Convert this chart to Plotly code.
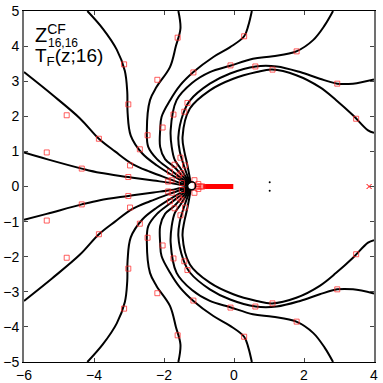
import plotly.graph_objects as go

# level curves through the branch point, upper branch / None / lower branch
c1_x = [-6, -5.35, -4.35, -3.83, -3.02, -2.3, -1.8, -1.517, -1.319, None,
        -1.319, -1.517, -1.8, -2.3, -3.02, -3.83, -4.35, -5.35, -6]
c1_y = [0.97, 0.78, 0.51, 0.39, 0.27, 0.17, 0.10, 0.042, 0.014, None,
        -0.014, -0.042, -0.10, -0.17, -0.27, -0.39, -0.51, -0.78, -0.95]

c2_x = [-6, -5.2, -4.4, -3.86, -3.4, -2.9, -2.4, -1.92, -1.505, -1.315, None,
        -1.315, -1.505, -1.92, -2.4, -2.9, -3.4, -3.86, -4.4, -5.2, -6]
c2_y = [3.26, 2.62, 1.94, 1.36, 1.0, 0.64, 0.42, 0.24, 0.093, 0.031, None,
        -0.031, -0.093, -0.24, -0.42, -0.64, -1.0, -1.36, -1.94, -2.62, -3.26]

c3_x = [-4.19, -3.75, -3.35, -3.12, -3.05, -3.04, -2.95, -2.62, -2.2, -1.48, -1.307, None,
        -1.307, -1.48, -2.2, -2.62, -2.95, -3.04, -3.05, -3.12, -3.35, -3.75, -4.19]
c3_y = [5.0, 4.5, 3.9, 3.3, 2.7, 2.1, 1.45, 0.94, 0.6, 0.15, 0.05, None,
        -0.05, -0.15, -0.6, -0.94, -1.45, -2.1, -2.7, -3.3, -3.9, -4.5, -5.0]

c4_x = [-1.59, -1.53, -1.66, -1.83, -2.21, -2.40, -2.49, -2.45, -2.2, -1.85, -1.45, -1.297, None,
        -1.297, -1.45, -1.85, -2.2, -2.45, -2.49, -2.40, -2.21, -1.83, -1.66, -1.53, -1.59]
c4_y = [5.0, 4.5, 4.0, 3.40, 2.84, 2.46, 1.60, 1.13, 0.78, 0.5, 0.193, 0.064, None,
        -0.064, -0.193, -0.5, -0.78, -1.13, -1.60, -2.46, -2.84, -3.40, -4.0, -4.5, -5.0]

c5_x = [0.51, 0.41, 0.29, -0.11, -0.59, -1.16, -1.54, -1.83, -2.07, -2.11, -2.11, -1.97, -1.7, -1.413, -1.284, None,
        -1.284, -1.413, -1.7, -1.97, -2.11, -2.11, -2.07, -1.83, -1.54, -1.16, -0.59, -0.11, 0.29, 0.41, 0.51]
c5_y = [5.0, 4.59, 4.28, 3.97, 3.69, 3.26, 2.88, 2.45, 1.98, 1.60, 1.13, 0.78, 0.55, 0.230, 0.077, None,
        -0.077, -0.230, -0.55, -0.78, -1.13, -1.60, -1.98, -2.45, -2.88, -3.26, -3.69, -3.97, -4.28, -4.59, -5.0]

c6_x = [2.83, 2.59, 2.26, 1.78, 1.11, 0.54, -0.11, -0.69, -1.2, -1.64, -1.81, -1.78, -1.69, -1.55, -1.370, -1.270, None,
        -1.270, -1.370, -1.55, -1.69, -1.78, -1.81, -1.64, -1.2, -0.69, -0.11, 0.54, 1.11, 1.78, 2.26, 2.59, 2.83]
c6_y = [5.0, 4.59, 4.17, 3.85, 3.71, 3.64, 3.44, 3.26, 2.95, 2.46, 1.60, 1.13, 0.75, 0.55, 0.260, 0.087, None,
        -0.087, -0.260, -0.55, -0.75, -1.13, -1.60, -2.46, -2.95, -3.26, -3.44, -3.64, -3.71, -3.85, -4.17, -4.59, -5.0]

c7_x = [4.0, 3.40, 2.95, 2.45, 1.89, 1.22, 0.62, -0.11, -0.69, -1.26, -1.45, -1.59, -1.55, -1.45, -1.323, -1.254, None,
        -1.254, -1.323, -1.45, -1.55, -1.59, -1.45, -1.26, -0.69, -0.11, 0.62, 1.22, 1.89, 2.45, 2.95, 3.40, 4.0]
c7_y = [3.05, 2.93, 2.93, 3.07, 3.26, 3.42, 3.42, 3.22, 2.93, 2.45, 2.08, 1.41, 1.0, 0.65, 0.282, 0.094, None,
        -0.094, -0.282, -0.65, -1.0, -1.41, -2.08, -2.45, -2.93, -3.22, -3.42, -3.42, -3.26, -3.07, -2.93, -2.93, -3.05]

c8_x = [4.0, 3.83, 3.40, 2.92, 2.45, 1.78, 1.09, 0.65, -0.02, -0.69, -1.26, -1.47, -1.42, -1.34, -1.272, -1.237, None,
        -1.237, -1.272, -1.34, -1.42, -1.47, -1.26, -0.69, -0.02, 0.65, 1.09, 1.78, 2.45, 2.92, 3.40, 3.83, 4.0]
c8_y = [1.53, 1.60, 2.03, 2.46, 2.83, 3.17, 3.33, 3.26, 3.07, 2.74, 2.22, 1.41, 1.0, 0.65, 0.295, 0.098, None,
        -0.098, -0.295, -0.65, -1.0, -1.41, -2.22, -2.74, -3.07, -3.26, -3.33, -3.17, -2.83, -2.46, -2.03, -1.60, -1.53]

# zeros of the CF approximant
zero_x = [-4.78, -3.14, -3.02, -1.61, -1.16, -2.19, -0.10, 0.29, 0.61, -1.33, -1.73, -1.42, -2.04,
          1.79, 1.10, 2.95, 3.49, -5.35, -4.35, -3.86, -3.02, -2.97, -2.47, -2.69, -1.53, -1.70,
          -1.40, -1.83, -1.88, -1.50, -1.13, -1.57, -1.78, -1.49, -1.02,
          -4.78, -3.14, -3.02, -1.61, -1.16, -2.19, -0.10, 0.29, 0.61, -1.33, -1.73, -1.42, -2.04,
          1.79, 1.10, 2.95, 3.49, -5.35, -4.35, -3.86, -3.02, -2.97, -2.47, -2.69, -1.53, -1.70,
          -1.40, -1.83, -1.88, -1.50, -1.13, -1.57, -1.78, -1.49, -1.02]
zero_y = [2.03, 3.48, 2.34, 4.24, 3.25, 3.04, 3.45, 4.28, 3.42, 2.38, 2.05, 2.13, 1.68,
          3.85, 3.33, 2.93, 1.93, 0.97, 0.51, 1.36, 0.27, 0.60, 1.46, 1.06, 0.82, 0.62,
          0.60, 0.42, 0.14, 0.38, 0.18, 0.32, 0.18, 0.10, 0.07,
          -2.03, -3.48, -2.34, -4.24, -3.25, -3.04, -3.45, -4.28, -3.42, -2.38, -2.05, -2.13, -1.68,
          -3.85, -3.33, -2.93, -1.93, -0.97, -0.51, -1.36, -0.27, -0.60, -1.46, -1.06, -0.82, -0.62,
          -0.60, -0.42, -0.14, -0.38, -0.18, -0.32, -0.18, -0.10, -0.07]

# zeros clustering on the real axis (branch cut)
cut_sq_x = [-1.06, -1.02, -0.98, -0.94, -0.90]
cut_sq_y = [0, 0, 0, 0, 0]
cut_x = [-0.88, -0.02]
cut_y = [0, 0]

branch_x = [-1.21]
branch_y = [0.02]
dot_x = [1.02, 1.02]
dot_y = [0.12, -0.12]
cross_x = [3.86]
cross_y = [0.0]

curves = [(c1_x, c1_y), (c2_x, c2_y), (c3_x, c3_y), (c4_x, c4_y),
          (c5_x, c5_y), (c6_x, c6_y), (c7_x, c7_y), (c8_x, c8_y)]

fig = go.Figure()
for cx, cy in curves:
    fig.add_trace(go.Scatter(x=cx, y=cy, mode='lines', line_shape='spline',
                             line=dict(color='black', width=2), connectgaps=False))

fig.add_trace(go.Scatter(x=cut_x, y=cut_y, mode='lines', line=dict(color='red', width=5)))
fig.add_trace(go.Scatter(x=cut_sq_x, y=cut_sq_y, mode='markers',
                         marker=dict(symbol='square-open', size=5, color='rgba(255,40,40,0.7)',
                                     line=dict(width=1))))
fig.add_trace(go.Scatter(x=zero_x, y=zero_y, mode='markers',
                         marker=dict(symbol='square-open', size=5, color='rgba(255,40,40,0.75)',
                                     line=dict(width=1))))
fig.add_trace(go.Scatter(x=branch_x, y=branch_y, mode='markers',
                         marker=dict(symbol='circle-open', size=8, color='black',
                                     line=dict(width=1.5))))
fig.add_trace(go.Scatter(x=dot_x, y=dot_y, mode='markers',
                         marker=dict(symbol='circle', size=2, color='black')))
fig.add_trace(go.Scatter(x=cross_x, y=cross_y, mode='markers',
                         marker=dict(symbol='x-thin-open', size=5, color='red',
                                     line=dict(width=1))))

fam = 'Liberation Sans, Arial, sans-serif'
tfont = dict(family=fam, size=14, color='black')

# title block: Z^CF_{16,16} / T_F(z;16)
fig.add_annotation(text="Z<sup>CF</sup>", x=0.029, y=0.975, xref='paper', yref='paper',
                   xanchor='left', yanchor='top', showarrow=False, borderpad=0,
                   font=dict(family=fam, size=20, color='black'))
fig.add_annotation(text="16,16", x=0.066, y=0.931, xref='paper', yref='paper',
                   xanchor='left', yanchor='top', showarrow=False, borderpad=0,
                   font=dict(family=fam, size=12, color='black'))
fig.add_annotation(text="T<sub>F</sub>(z;16)", x=0.029, y=0.905, xref='paper', yref='paper',
                   xanchor='left', yanchor='top', showarrow=False, borderpad=0,
                   font=dict(family=fam, size=19, color='black'))

fig.update_layout(width=383, height=383, showlegend=False, hovermode=False,
                  paper_bgcolor='white', plot_bgcolor='white',
                  margin=dict(l=24, r=9, t=11, b=21))
fig.update_xaxes(range=[-6, 4], tickvals=[-6, -4, -2, 0, 2, 4], ticks='inside', ticklen=4,
                 showgrid=False, zeroline=False, showline=True, linecolor='black', linewidth=1,
                 mirror='ticks', tickfont=tfont, automargin=False)
fig.update_yaxes(range=[-5, 5], tickvals=list(range(-5, 6)), ticks='inside', ticklen=4,
                 showgrid=False, zeroline=False, showline=True, linecolor='#707070', linewidth=2,
                 mirror='ticks', tickfont=tfont, automargin=False)

# page body has a default margin; drop it so the figure sits at the window corner
fig.write_html("out.html", config={'displayModeBar': False},
               post_script="document.body.style.margin='0';")
